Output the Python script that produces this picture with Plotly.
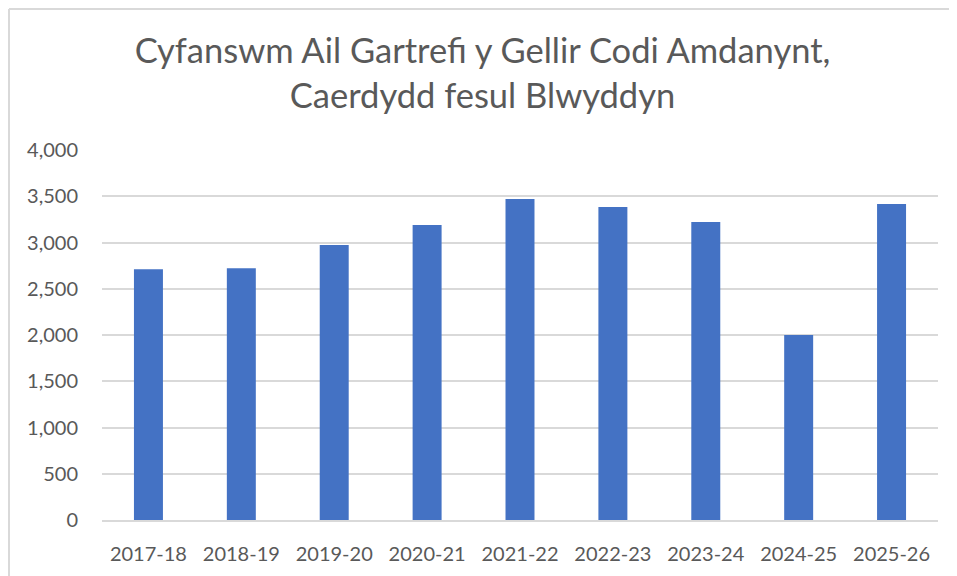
import plotly.graph_objects as go

categories = ["2017-18", "2018-19", "2019-20", "2020-21", "2021-22",
              "2022-23", "2023-24", "2024-25", "2025-26"]
values = [2710, 2721, 2973, 3189, 3470, 3384, 3222, 2000, 3416]
y_ticks = [0, 500, 1000, 1500, 2000, 2500, 3000, 3500, 4000]
y_tick_labels = ["0", "500", "1,000", "1,500", "2,000", "2,500", "3,000", "3,500", "4,000"]
title_text = "Cyfanswm Ail Gartrefi y Gellir Codi Amdanynt,<br>Caerdydd fesul Blwyddyn"

FONT = "Lato"
GREY = "#595959"

W, H = 949, 568
ML, MR, MT, MB = 94, 19, 142, 56
PW = W - ML - MR
PH = H - MT - MB

bx0 = -(ML - 1) / PW
by1 = (PH + MT - 1) / PH

fig = go.Figure(go.Bar(x=categories, y=values, marker_color="#4472C4",
                       marker_line_width=0))

fig.update_layout(
    width=W, height=H,
    paper_bgcolor="white", plot_bgcolor="white",
    margin=dict(l=ML, r=MR, t=MT, b=MB),
    bargap=0.688,
    showlegend=False,
    font=dict(family=FONT, color=GREY, size=20),
    title=dict(text=title_text, x=0.5, xanchor="center",
               y=1 - 55 / H, yanchor="middle", yref="container",
               font=dict(family=FONT, size=34.5, color=GREY)),
    shapes=[
        dict(type="line", xref="paper", yref="paper",
             x0=bx0, x1=1.3, y0=by1, y1=by1,
             line=dict(color="#D9D9D9", width=2), layer="below"),
        dict(type="line", xref="paper", yref="paper",
             x0=bx0, x1=bx0, y0=-0.5, y1=by1,
             line=dict(color="#D9D9D9", width=2), layer="below"),
    ],
)
fig.update_xaxes(showgrid=False, showline=True, linecolor="#D9D9D9", linewidth=2,
                 ticks="", tickfont=dict(size=20, color=GREY, family=FONT),
                 ticklabelstandoff=15)
fig.update_yaxes(range=[0, 4000], tickvals=y_ticks, ticktext=y_tick_labels,
                 showgrid=True, gridcolor="#D9D9D9", gridwidth=1.5,
                 zeroline=False, showline=False, ticks="",
                 tickfont=dict(size=20, color=GREY, family=FONT),
                 ticklabelstandoff=23)

fig.write_html("out.html")
